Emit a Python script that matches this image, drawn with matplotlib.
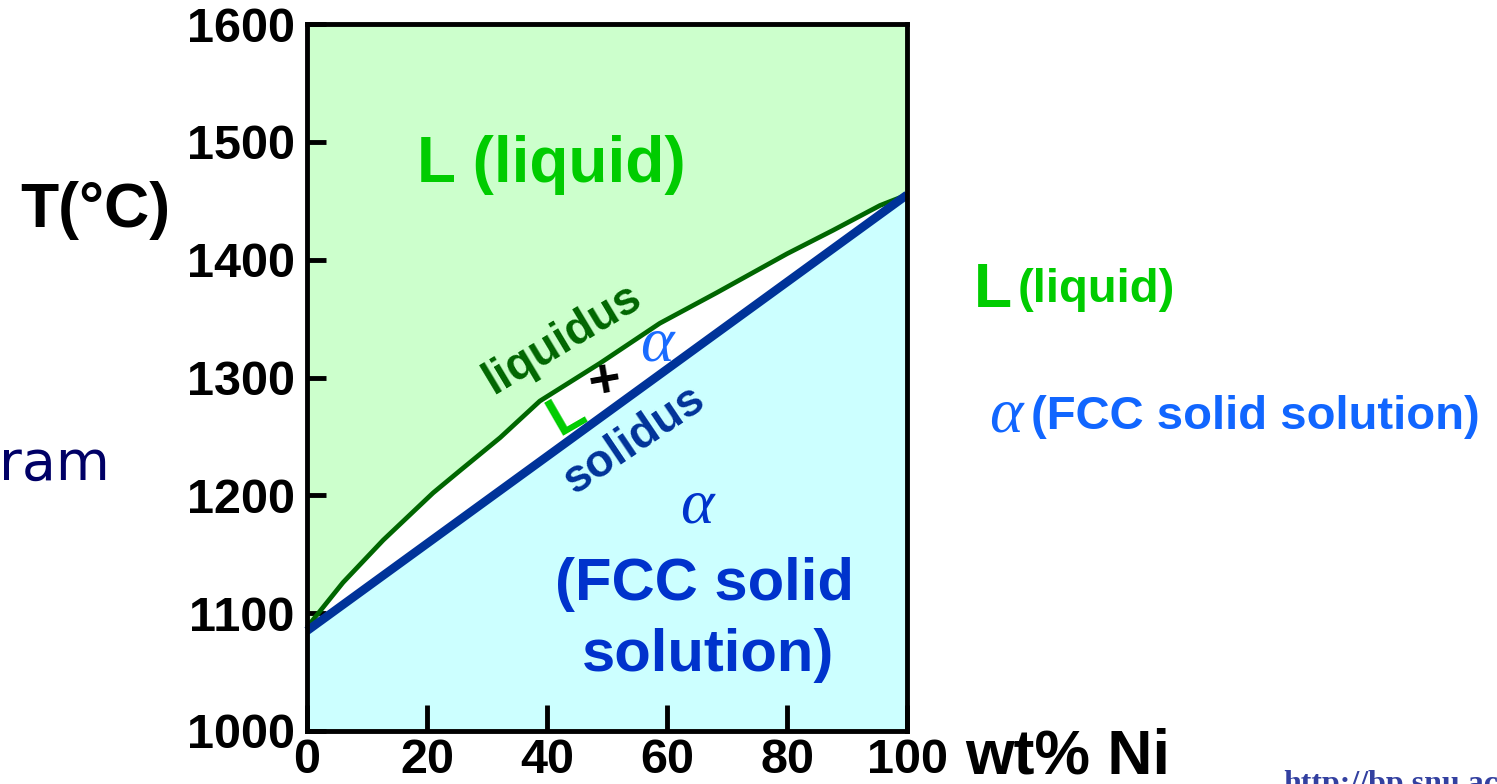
import matplotlib.pyplot as plt
import numpy as np

# Cu-Ni phase diagram
liq_ni = [0, 6, 12.7, 21, 25.5, 32.2, 38.8, 48.8, 58.8, 68.3, 80, 87.7, 95.5, 100]
liq_t = [1088, 1126, 1162, 1202, 1221, 1249, 1280, 1312, 1346, 1372, 1405, 1425, 1446, 1455]
sol_ni = [0, 100]
sol_t = [1085, 1455]

x_ticks = [0, 20, 40, 60, 80, 100]
y_ticks = [1000, 1100, 1200, 1300, 1400, 1500, 1600]

W, H = 1497, 784
BOLD = 'Liberation Sans'


def px(x, y):
    # pixel position (from top left) -> figure fraction
    return x / W, 1 - y / H


fig = plt.figure(figsize=(W / 100, H / 100), dpi=100)
ax = fig.add_axes([307 / W, 1 - 731 / H, 600 / W, 707 / H])

xs = np.linspace(0, 100, 400)
liq = np.interp(xs, liq_ni, liq_t)
sol = np.interp(xs, sol_ni, sol_t)
ax.fill_between(xs, liq, 1600, color='#ccffcc', lw=0)
ax.fill_between(xs, 1000, sol, color='#ccffff', lw=0)
ax.fill_between(xs, sol, liq, color='white', lw=0)

ax.plot(liq_ni, liq_t, color='#006600', lw=3.4, clip_on=False, solid_capstyle='butt',
        solid_joinstyle='round', zorder=3)
ax.plot(sol_ni, sol_t, color='#003399', lw=6.2, clip_on=False, solid_capstyle='butt', zorder=4)

ax.set_xlim(0, 100)
ax.set_ylim(1000, 1600)
ax.set_xticks(x_ticks)
ax.set_yticks(y_ticks)
ax.tick_params(axis='both', direction='in', width=3.5, colors='black')
ax.tick_params(axis='x', length=19, pad=5)
ax.tick_params(axis='y', length=14, pad=9)
for lab in ax.get_xticklabels() + ax.get_yticklabels():
    lab.set_fontfamily(BOLD)
    lab.set_fontweight('bold')
    lab.set_fontsize(35)
for sp in ax.spines.values():
    sp.set_linewidth(3.5)
    sp.set_zorder(5)

# labels inside the diagram
ax.text(40.8, 1480, 'L (liquid)', color='#00cc00', fontsize=46, fontweight='bold',
        family=BOLD, ha='center', va='center')
ax.text(42.7, 1333, 'liquidus', color='#006600', fontsize=33, fontweight='bold',
        family=BOLD, ha='center', va='center', rotation=31)
ax.text(54.5, 1247, 'solidus', color='#003399', fontsize=33, fontweight='bold',
        family=BOLD, ha='center', va='center', rotation=34)
ax.text(43.3, 1268, 'L', color='#00cc00', fontsize=40, fontweight='bold',
        family=BOLD, ha='center', va='center', rotation=30)
ax.text(49.7, 1296, '+', color='black', fontsize=40, fontweight='bold',
        family=BOLD, ha='center', va='center', rotation=10)
ax.text(58.3, 1327, 'α', color='#1a6cff', fontsize=46, style='italic',
        family='Liberation Serif', ha='center', va='center')
ax.text(65, 1190, 'α', color='#0033cc', fontsize=46, style='italic',
        family='Liberation Serif', ha='center', va='center')
ax.text(66.2, 1124, '(FCC solid', color='#0033cc', fontsize=43, fontweight='bold',
        family=BOLD, ha='center', va='center')
ax.text(66.8, 1064, 'solution)', color='#0033cc', fontsize=43, fontweight='bold',
        family=BOLD, ha='center', va='center')

# axis titles
fig.text(*px(95, 210), 'T(°C)', fontsize=45, fontweight='bold', family=BOLD,
         ha='center', va='center')
fig.text(*px(965, 757), 'wt% Ni', fontsize=45, fontweight='bold', family=BOLD,
         ha='left', va='center')

# legend-like notes on the right
fig.text(*px(993, 290), 'L', color='#00cc00', fontsize=45, fontweight='bold',
         family=BOLD, ha='center', va='center')
fig.text(*px(1018, 290), '(liquid)', color='#00cc00', fontsize=34, fontweight='bold',
         family=BOLD, ha='left', va='center')
fig.text(*px(1006, 417), 'α', color='#1166ff', fontsize=46, style='italic',
         family='Liberation Serif', ha='center', va='center')
fig.text(*px(1031, 417), '(FCC solid solution)', color='#1166ff', fontsize=34,
         fontweight='bold', family=BOLD, ha='left', va='center')

# cut-off remnants from the slide
fig.text(*px(110, 465), 'ram', color='#000066', fontsize=40, family='DejaVu Sans',
         ha='right', va='center')
fig.text(*px(1283, 792), 'http://bp.snu.ac.kr', color='#3340a0', fontsize=23,
         fontweight='bold', family='Liberation Serif', ha='left', va='baseline')

fig.savefig('out.png', dpi=100)
